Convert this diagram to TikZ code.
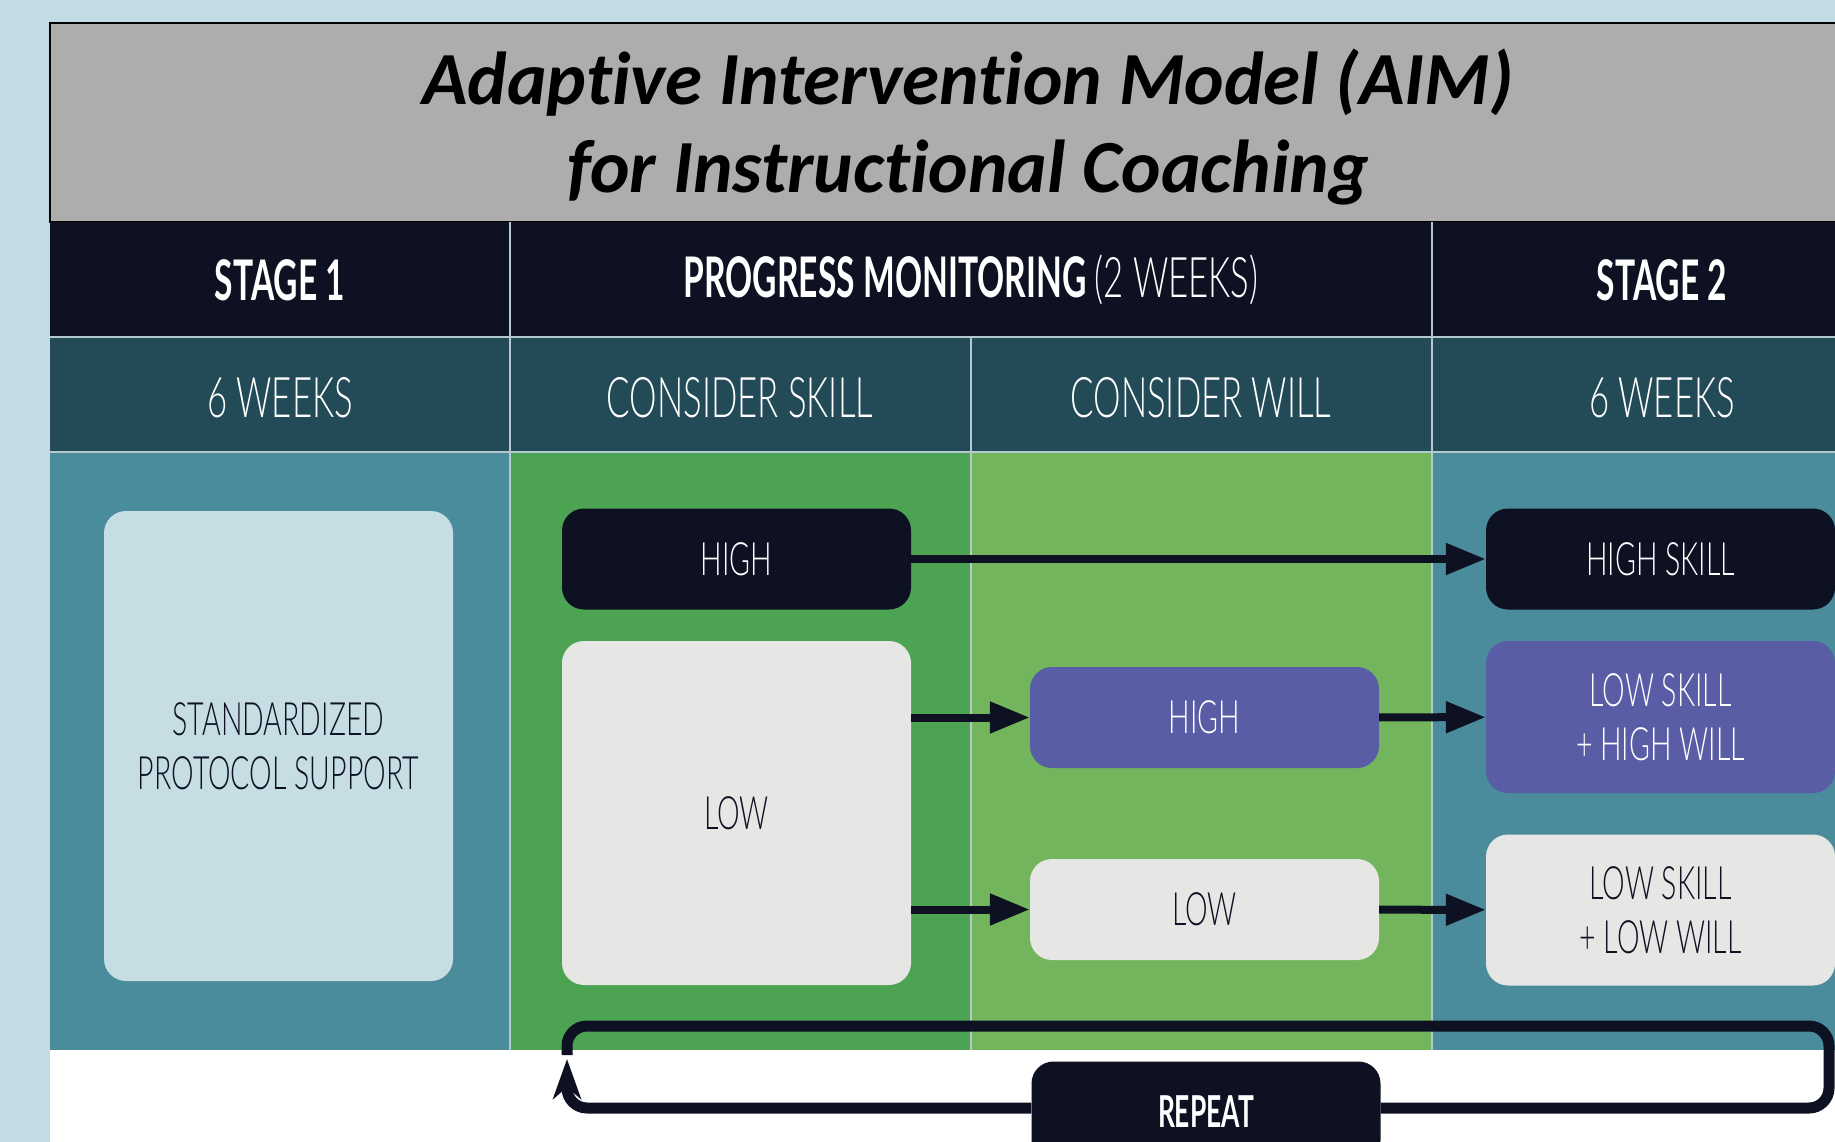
\documentclass[tikz,border=0pt]{standalone}
\usepackage{fontspec}
\usetikzlibrary{positioning,arrows.meta}

\newfontfamily\titlefont[Ligatures=NoCommon]{Carlito}
\newfontfamily\hdfont[FakeStretch=0.6]{Lato}
\newfontfamily\thinfont[FakeStretch=0.62]{Lato Light}

\definecolor{pagebg}{HTML}{C3DCE3}
\definecolor{titlegray}{HTML}{ADADAB}
\definecolor{aimnavy}{HTML}{0D1122}
\definecolor{rowteal}{HTML}{224A57}
\definecolor{bodyteal}{HTML}{4A8B9C}
\definecolor{skillgreen}{HTML}{4CA352}
\definecolor{willgreen}{HTML}{72B55C}
\definecolor{aimpurple}{HTML}{585DA5}
\definecolor{boxgrey}{HTML}{E6E6E4}
\definecolor{stdblue}{HTML}{C5DDE3}
\definecolor{rule}{HTML}{B4C8CF}

\tikzset{
  titletext/.style={font=\titlefont\bfseries\itshape\fontsize{75}{88}\selectfont, text=black},
  headcell/.style={font=\hdfont\bfseries\fontsize{56}{60}\selectfont, text=white},
  cell/.style={font=\thinfont\fontsize{56}{60}\selectfont, text=white},
  divider/.style={draw=rule, line width=1.5pt},
  box/.style={rounded corners=22pt, minimum width=349pt, minimum height=101pt,
    align=center, inner sep=0pt, font=\thinfont\fontsize{46}{54}\selectfont},
  darkbox/.style={box, fill=aimnavy, text=white},
  greybox/.style={box, fill=boxgrey, text=aimnavy},
  purplebox/.style={box, fill=aimpurple, text=white},
  flow/.style={draw=aimnavy, line width=8pt, -{Triangle[length=40pt,width=30pt]}},
  loopline/.style={draw=aimnavy, line width=11pt, rounded corners=20pt}
}

\begin{document}
\begin{tikzpicture}[x=1pt, y=-1pt]
\useasboundingbox (0,0) rectangle (1835,1142);
\clip (0,0) rectangle (1835,1142);

% background and table
\fill[pagebg] (0,0) rectangle (1835,1142);
\fill[white] (50,1050) rectangle (1845,1150);
\draw[black, line width=2.5pt, fill=titlegray] (50,23) rectangle (1850,222);
\fill[aimnavy] (50,222) rectangle (1845,337);
\fill[rowteal] (50,337) rectangle (1845,452);
\fill[bodyteal] (50,452) rectangle (510,1050);
\fill[skillgreen] (510,452) rectangle (971,1050);
\fill[willgreen] (971,452) rectangle (1432,1050);
\fill[bodyteal] (1432,452) rectangle (1845,1050);
\draw[divider] (510,222) -- (510,1050);
\draw[divider] (971,337) -- (971,1050);
\draw[divider] (1432,222) -- (1432,1050);
\draw[divider] (50,337) -- (1845,337);
\draw[divider] (50,452) -- (1845,452);

% title
\node[titletext, anchor=base] (title) at (968,105) {Adaptive Intervention Model (AIM)};
\node[titletext, anchor=base] (subtitle) at (968,193) {for Instructional Coaching};

% header rows
\node[headcell] (stage1) at (280,280) {STAGE 1};
\node[headcell] (monitor) at (971,280) {PROGRESS MONITORING {\thinfont\mdseries (2 WEEKS)}};
\node[headcell] (stage2) at (1662,280) {STAGE 2};
\node[cell] (weeks1) at (280,398) {6 WEEKS};
\node[cell] (skill) at (740,398) {CONSIDER SKILL};
\node[cell] (will) at (1201,398) {CONSIDER WILL};
\node[cell] (weeks2) at (1662,398) {6 WEEKS};

% boxes
\node[box, fill=stdblue, text=aimnavy, minimum height=470pt] (std) at (278.5,746) {STANDARDIZED\\PROTOCOL SUPPORT};
\node[darkbox] (skillhigh) at (736.5,559) {HIGH};
\node[greybox, minimum height=344pt] (skilllow) at (736.5,813) {LOW};
\node[purplebox] (willhigh) at (1204.5,717.5) {HIGH};
\node[greybox] (willlow) at (1204.5,909.5) {LOW};
\node[darkbox] (highskill) at (1660.5,559) {HIGH SKILL};
\node[purplebox, minimum height=152pt] (lowhigh) at (1660.5,717) {LOW SKILL\\+ HIGH WILL};
\node[greybox, minimum height=151pt] (lowlow) at (1660.5,910) {LOW SKILL\\+ LOW WILL};

% arrows
\draw[flow] (skillhigh) -- (highskill);
\draw[flow] (skilllow.east |- willhigh) -- (willhigh);
\draw[flow] (skilllow.east |- willlow) -- (willlow);
\draw[flow] (willhigh) -- (lowhigh);
\draw[flow] (willlow) -- (lowlow);

% repeat loop
\node[darkbox, font=\hdfont\bfseries\fontsize{44}{48}\selectfont] (repeat) at (1206,1112) {REPEAT};
\coordinate (loopbl) at (567,1108);
\coordinate (looptip) at (567,1059);
\coordinate (loopgap) at (567,1055);
\coordinate (looptl) at (567,1026);
\coordinate (looptr) at (1829,1026);
\coordinate (loopbr) at (1829,1108);
\draw[loopline, -{Stealth[length=40pt,width=28pt,inset=12pt]}] (repeat.west |- loopbl) -- (loopbl) -- (looptip);
\draw[loopline] (loopgap) -- (looptl) -- (looptr) -- (loopbr) -- (repeat.east |- loopbr);
\end{tikzpicture}
\end{document}
